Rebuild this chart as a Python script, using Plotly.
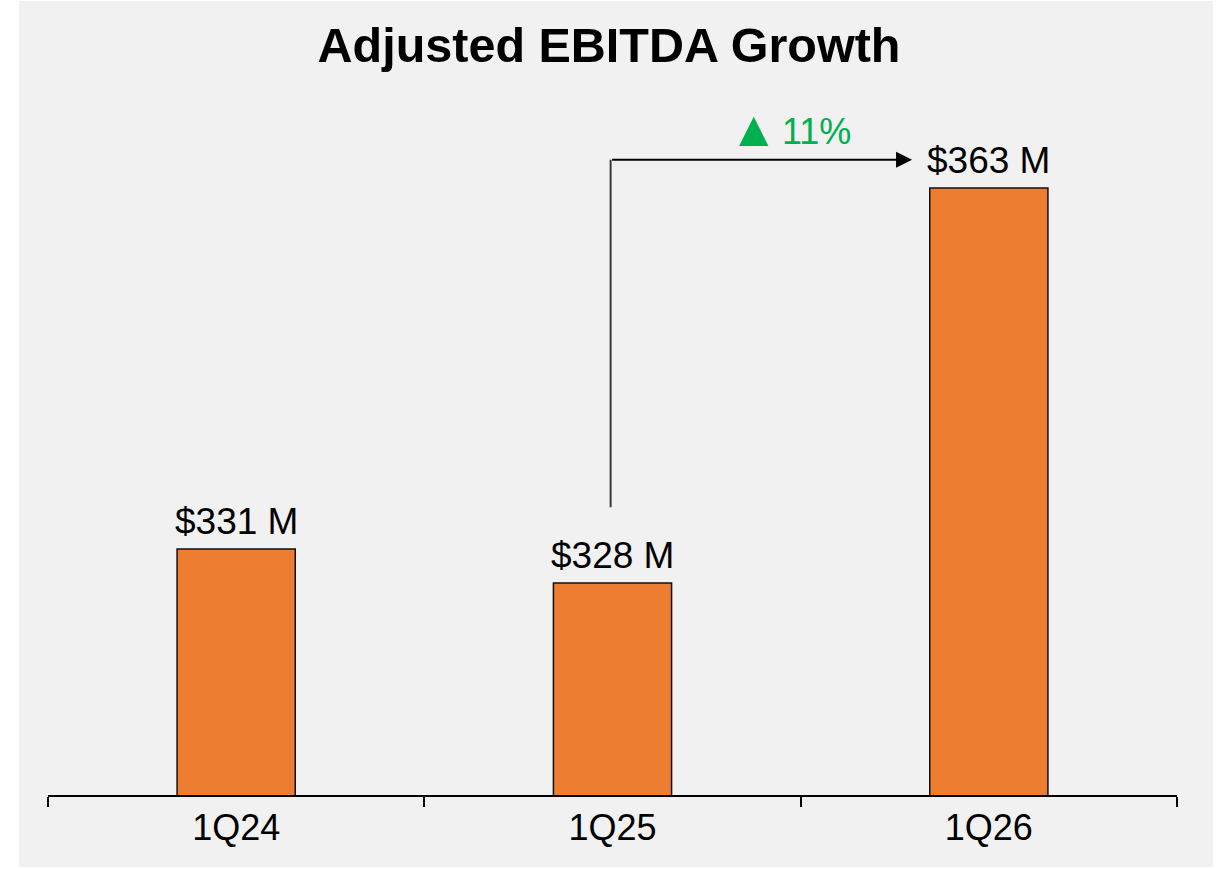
import plotly.graph_objects as go

categories = ["1Q24", "1Q25", "1Q26"]
values = [331, 328, 363]
value_labels = ["$331 M", "$328 M", "$363 M"]
growth_arrow = "▲"
growth_pct = "11%"
title_text = "Adjusted EBITDA Growth"

FONT = "Liberation Sans, Arial, sans-serif"
W, H = 1221, 869
ML, MR, MT, MB = 48, 44, 100, 74
Y0, Y1 = 309.2, 370.8

fig = go.Figure()
fig.add_trace(go.Bar(
    x=categories, y=values,
    marker=dict(color="#ED7D31", line=dict(color="#111111", width=1.5)),
    width=0.314, hoverinfo="skip",
))

pw, ph = W - ML - MR, H - MT - MB
def px_x(p):
    return (p - ML) / pw
def px_y(p):
    return (H - MB - p) / ph

shapes = [
    dict(type="rect", xref="paper", yref="paper", layer="below",
         x0=px_x(19), x1=px_x(1213), y0=px_y(867), y1=px_y(1),
         fillcolor="#F1F1F1", line=dict(width=0)),
    dict(type="line", xref="x", yref="y", x0=0.995, x1=0.995, y0=334.7, y1=365.5,
         line=dict(color="#3a3a3a", width=2)),
]

annotations = []
for c, v, t in zip(categories, values, value_labels):
    annotations.append(dict(x=c, y=v, xref="x", yref="y", text=t, showarrow=False,
                            yanchor="bottom", yshift=5,
                            font=dict(family=FONT, size=37, color="#000000")))
annotations.append(dict(x=1.796, y=365.5, xref="x", yref="y",
                        ax=0.995, ay=365.5, axref="x", ayref="y",
                        text="", showarrow=True, arrowhead=2, arrowsize=1.6,
                        arrowwidth=2, arrowcolor="#000000", standoff=0))
annotations.append(dict(x=1.375, y=368.2, xref="x", yref="y", text=growth_arrow,
                        showarrow=False, xanchor="center", yanchor="middle",
                        font=dict(family=FONT, size=50, color="#00B050")))
annotations.append(dict(x=1.543, y=368.0, xref="x", yref="y", text=growth_pct,
                        showarrow=False, xanchor="center", yanchor="middle",
                        font=dict(family=FONT, size=36, color="#00B050")))

fig.update_layout(
    width=W, height=H,
    margin=dict(l=ML, r=MR, t=MT, b=MB),
    paper_bgcolor="#FFFFFF", plot_bgcolor="rgba(0,0,0,0)",
    showlegend=False,
    title=dict(text="<b>" + title_text + "</b>", x=609 / W, xref="container",
               xanchor="center", y=1 - 45 / H, yref="container",
               yanchor="middle", font=dict(family=FONT, size=48.5, color="#000000")),
    shapes=shapes, annotations=annotations,
)
fig.update_xaxes(type="category", showline=True, linecolor="#000000", linewidth=1.5,
                 ticks="outside", tickson="boundaries", ticklen=10, tickwidth=1.5,
                 tickcolor="#000000", showgrid=False, zeroline=False,
                 tickfont=dict(family=FONT, size=36, color="#000000"),
                 range=[-0.5, 2.5])
fig.update_yaxes(range=[Y0, Y1], visible=False, showgrid=False, zeroline=False)

fig.write_html("out.html")
